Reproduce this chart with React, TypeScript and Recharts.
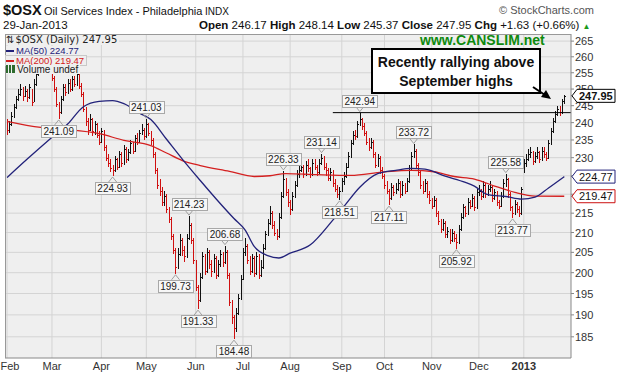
import React from 'react';
import {
  ComposedChart,
  Bar,
  Line,
  XAxis,
  YAxis,
  CartesianGrid,
  ReferenceLine,
  ReferenceDot,
} from 'recharts';

// daily bars, Feb 1 2012 .. Jan 29 2013 (trading days)
const closes = [
  238.0, 239.5, 242.0, 244.5, 247.0, 248.5, 250.0, 248.0, 249.5, 247.5,
  250.5, 246.0, 251.5, 254.5, 256.0, 257.5, 258.5, 256.5, 257.5, 256.0,
  253.5, 250.0, 245.5, 243.0, 247.0, 250.5, 249.0, 252.0, 250.0, 253.0,
  251.5, 254.5, 251.0, 248.5, 244.0, 240.5, 238.0, 241.0, 237.5, 239.5,
  236.5, 234.5,
  237.5, 233.0, 230.0, 228.5, 227.0, 226.5, 229.5, 227.5, 231.0, 228.5,
  232.5, 229.5, 231.5, 234.0, 232.0, 235.5, 234.5, 237.0, 238.0, 236.0,
  239.5, 237.0, 235.0, 231.0, 226.5, 222.5, 221.0, 218.0, 219.5, 216.0,
  213.5, 209.0, 205.5, 201.5, 204.5, 208.0, 205.5, 204.0, 208.5, 212.0,
  208.0, 203.0,
  196.5, 193.5, 199.0, 204.0, 200.5, 205.0, 202.0, 200.5, 203.5, 199.5,
  202.0, 204.5, 202.5, 205.0, 199.5, 193.0, 189.5, 187.0, 190.5, 194.0,
  198.5,
  205.0, 206.5, 203.0, 200.5, 203.5, 200.0, 204.0, 199.5, 201.5, 206.0,
  209.5, 212.5, 215.0, 212.0, 210.0, 209.0, 214.0, 219.5, 224.0, 220.5,
  218.0,
  216.0, 219.5, 222.5, 225.5, 226.5, 227.5, 225.5, 228.0, 227.0, 225.5,
  228.5, 227.5, 226.0, 228.5, 230.0, 227.5, 226.5, 224.5, 226.0, 223.0,
  221.5, 220.0, 221.0,
  223.5, 225.0, 227.5, 230.5, 234.0, 236.5, 236.0, 239.5, 241.0, 239.0,
  237.0, 234.5, 233.0, 234.5, 231.0, 228.0, 230.0, 226.5, 225.0,
  222.5, 221.0, 219.0, 222.0, 220.5, 221.5, 223.0, 220.0, 222.5, 221.0,
  223.5, 227.0, 230.5, 232.0, 228.0, 226.0, 222.5, 221.0, 223.0, 220.0,
  218.5,
  217.0, 218.5, 215.0, 213.0, 211.0, 212.5, 209.5, 210.5, 208.0, 210.0,
  208.5, 207.5, 211.0, 214.0, 216.5, 215.0, 218.0, 217.0, 219.0, 216.5,
  220.5,
  221.0, 219.5, 222.5, 220.0, 221.5, 222.0, 219.0, 220.5, 218.0, 217.0,
  219.5, 223.0, 224.0, 220.0, 216.5, 215.0, 217.5, 216.0, 215.0, 221.5,
  228.5, 229.5, 231.0, 231.5, 229.0, 230.5, 231.5, 229.5, 232.0, 231.0,
  230.0, 234.0, 237.5, 240.5, 242.5, 244.0, 243.0, 246.32, 247.95,
];

const highs = [
  241.0, 240.5, 243.0, 245.5, 248.0, 250.0, 251.5, 250.5, 251.0, 250.0,
  251.5, 250.0, 253.0, 256.0, 257.5, 259.0, 260.0, 259.0, 259.0, 258.5,
  256.5, 254.0, 250.5, 246.0, 248.0, 251.5, 251.5, 253.0, 253.0, 254.0,
  254.0, 256.0, 255.0, 252.0, 249.0, 244.5, 241.5, 242.5, 241.5, 240.5,
  240.0, 237.5,
  238.5, 238.0, 233.5, 231.0, 229.5, 228.0, 230.5, 230.0, 232.0, 231.5,
  233.5, 233.0, 232.5, 235.0, 234.5, 236.5, 237.0, 238.0, 239.5, 238.5,
  241.03, 240.0, 237.5, 235.5, 231.5, 227.0, 224.0, 222.0, 221.0, 220.0,
  216.5, 214.0, 209.5, 206.0, 206.0, 209.5, 208.5, 206.5, 209.5, 214.23,
  212.5, 208.5,
  203.0, 197.0, 200.0, 205.0, 204.5, 206.0, 205.5, 203.0, 204.5, 204.0,
  203.0, 205.5, 205.0, 206.68, 205.5, 200.0, 193.5, 190.0, 191.5, 195.0,
  199.5,
  206.0, 208.5, 207.0, 204.0, 204.5, 204.0, 205.0, 204.5, 203.0, 207.0,
  210.5, 213.5, 217.0, 215.5, 213.0, 211.0, 215.0, 220.5, 226.33, 224.5,
  221.5,
  218.5, 220.5, 223.5, 226.5, 228.0, 229.0, 228.0, 229.0, 229.5, 227.5,
  229.5, 229.5, 228.0, 229.5, 231.14, 230.5, 228.5, 227.0, 227.0, 226.5,
  224.0, 222.5, 222.0,
  224.5, 226.0, 228.5, 231.5, 235.0, 237.5, 238.0, 240.5, 242.94, 241.5,
  240.0, 237.5, 235.5, 235.5, 235.0, 231.5, 231.0, 230.5, 227.5,
  225.5, 223.5, 221.5, 223.0, 222.5, 223.0, 224.0, 223.5, 223.5, 223.0,
  224.5, 228.0, 231.5, 233.72, 232.5, 228.5, 226.5, 223.5, 224.0, 223.5,
  221.0,
  219.0, 219.5, 219.0, 215.5, 213.5, 213.5, 213.0, 211.5, 211.0, 211.0,
  210.5, 209.5, 212.0, 215.0, 217.5, 217.0, 219.0, 218.5, 220.0, 219.5,
  221.5,
  222.5, 221.5, 223.5, 223.0, 222.5, 223.5, 222.5, 221.5, 221.0, 218.5,
  220.5, 224.0, 225.58, 224.5, 220.5, 217.0, 218.5, 218.0, 217.0, 222.0,
  229.5, 231.0, 232.5, 233.0, 232.0, 231.5, 233.0, 232.0, 233.0, 233.0,
  231.5, 235.0, 238.5, 241.5, 243.5, 245.0, 245.0, 247.0, 248.14,
];

const lows = [
  236.5, 237.0, 239.0, 241.5, 244.0, 246.5, 248.0, 246.5, 247.5, 246.0,
  247.0, 245.0, 246.5, 251.0, 254.0, 255.5, 256.5, 255.5, 255.5, 255.0,
  252.5, 249.0, 244.5, 241.09, 242.5, 246.5, 248.0, 248.5, 249.0, 249.5,
  250.5, 251.0, 250.0, 247.5, 243.0, 239.0, 236.5, 237.5, 236.0, 236.5,
  235.5, 233.5,
  234.0, 232.0, 229.0, 227.5, 226.0, 224.93, 226.0, 226.5, 227.0, 227.5,
  228.0, 228.5, 229.0, 231.0, 231.0, 231.5, 233.5, 234.0, 236.5, 235.0,
  235.5, 236.0, 233.5, 230.0, 225.5, 221.5, 219.5, 217.0, 217.0, 215.0,
  212.5, 208.0, 204.5, 199.73, 201.0, 204.0, 204.0, 202.5, 203.5, 208.0,
  207.0, 202.0,
  195.5, 191.33, 193.0, 198.5, 199.5, 200.0, 201.0, 199.0, 200.0, 198.5,
  199.0, 201.5, 201.5, 202.0, 198.5, 192.0, 188.0, 184.48, 186.0, 190.0,
  193.5,
  198.5, 204.0, 202.0, 199.5, 200.0, 199.0, 199.5, 198.5, 199.0, 201.0,
  205.5, 209.0, 212.0, 211.0, 209.0, 208.0, 208.5, 213.5, 219.0, 219.5,
  216.5,
  214.5, 215.5, 219.0, 222.0, 224.5, 226.0, 224.5, 225.0, 226.0, 224.5,
  225.0, 226.5, 225.0, 225.5, 228.0, 226.5, 225.0, 223.5, 223.5, 222.0,
  220.5, 219.0, 218.51,
  220.5, 222.5, 224.5, 227.0, 230.0, 233.5, 235.0, 235.5, 239.0, 238.0,
  236.0, 233.5, 232.0, 232.5, 230.0, 227.0, 227.5, 225.5, 224.0,
  221.5, 220.0, 217.11, 218.5, 219.5, 220.0, 221.0, 219.0, 219.5, 220.0,
  220.5, 223.0, 226.5, 230.0, 227.0, 225.0, 221.5, 220.0, 220.5, 219.0,
  217.5,
  216.0, 216.5, 214.0, 212.0, 210.0, 210.5, 208.5, 208.5, 207.0, 207.5,
  207.5, 205.92, 207.0, 210.5, 213.5, 214.0, 214.5, 216.0, 216.5, 215.5,
  216.0,
  219.5, 218.5, 219.0, 219.0, 219.5, 220.5, 218.0, 218.5, 217.0, 216.0,
  216.5, 219.0, 222.0, 219.0, 215.5, 213.77, 214.5, 215.0, 214.0, 214.5,
  226.0, 227.5, 229.0, 230.0, 228.0, 228.5, 229.5, 228.5, 229.0, 230.0,
  229.0, 229.5, 233.5, 237.0, 240.0, 242.0, 242.0, 242.5, 245.37,
];

const firstOpen = 239.0;

// moving averages at selected bars
const ma50At = [0, 9, 19, 27, 34, 41, 47, 52, 59, 64, 71, 78, 86, 93, 101, 106, 110, 116, 121, 126, 135, 145, 150, 157, 165, 173, 180, 186, 195, 204, 208, 214, 222, 229, 235, 241, 248];
const ma50Vals = [224.5, 229.6, 235.2, 239.6, 244.7, 246.3, 246.5, 245.6, 242.8, 240.9, 235.2, 229.6, 223.7, 218.8, 213.6, 210.6, 206.5, 204.2, 203.6, 204.8, 206.9, 213.2, 216.8, 221.9, 225.6, 226.5, 227.0, 226.8, 224.9, 223.2, 222.2, 219.9, 219.4, 218.7, 219.2, 221.7, 224.77];

const ma200At = [0, 15, 27, 41, 52, 64, 71, 78, 86, 99, 110, 117, 124, 138, 153, 167, 180, 190, 199, 208, 217, 226, 235, 248];
const ma200Vals = [240.4, 238.6, 238.0, 236.8, 234.9, 233.4, 231.3, 229.2, 227.8, 226.2, 224.8, 225.0, 225.6, 225.3, 225.1, 226.0, 226.5, 226.1, 224.8, 224.1, 222.2, 220.5, 219.5, 219.47];

// labelled highs / lows
const noteAt = [23, 47, 62, 75, 81, 85, 97, 101, 123, 140, 148, 157, 170, 181, 200, 222, 225];
const noteVals = [241.09, 224.93, 241.03, 199.73, 214.23, 191.33, 206.68, 184.48, 226.33, 231.14, 218.51, 242.94, 217.11, 233.72, 205.92, 225.58, 213.77];
const noteIsHigh = [false, false, true, false, true, false, true, false, true, true, false, true, false, true, false, true, false];

const monthTicks = [0, 20, 42, 62, 84, 105, 126, 149, 168, 189, 210, 230];
const monthLabels = ['Feb', 'Mar', 'Apr', 'May', 'Jun', 'Jul', 'Aug', 'Sep', 'Oct', 'Nov', 'Dec', '2013'];
const priceTicks = [185, 190, 195, 200, 205, 210, 215, 220, 225, 230, 235, 240, 245, 250, 255, 260, 265];
const coveredTicks = [220, 225];

const lastValues = [247.95, 224.77, 219.47];
const lastColors = ['#000000', '#22227A', '#CC1111'];

const RED = '#D01010';
const NAVY = '#22227A';
const MA_RED = '#D42020';
const FONT = '"Liberation Sans", Arial, sans-serif';

const rows = closes.map((close, i) => {
  const k50 = ma50At.indexOf(i);
  const k200 = ma200At.indexOf(i);
  return {
    i,
    open: i === 0 ? firstOpen : closes[i - 1],
    close,
    high: highs[i],
    low: lows[i],
    range: [lows[i], highs[i]],
    ma50: k50 >= 0 ? ma50Vals[k50] : null,
    ma200: k200 >= 0 ? ma200Vals[k200] : null,
  };
});

function OhlcBar(props: any) {
  const { x, y, width, height, payload } = props;
  if (!payload || y == null || isNaN(y)) return null;
  const cx = Math.round(x + width / 2) + 0.5;
  const top = Math.min(y, y + height);
  const bot = Math.max(y, y + height);
  const lh = Math.log(payload.high);
  const ll = Math.log(payload.low);
  const yAt = (v: number) => {
    const c = Math.min(payload.high, Math.max(payload.low, v));
    return top + ((bot - top) * (lh - Math.log(c))) / (lh - ll || 1);
  };
  const col = payload.close < payload.open ? RED : '#111111';
  const yo = Math.round(yAt(payload.open)) + 0.5;
  const yc = Math.round(yAt(payload.close)) + 0.5;
  return (
    <g stroke={col} strokeWidth={1} shapeRendering="crispEdges">
      <line x1={cx} x2={cx} y1={top} y2={bot} />
      <line x1={cx - 1} x2={cx} y1={yo} y2={yo} />
      <line x1={cx} x2={cx + 1} y1={yc} y2={yc} />
    </g>
  );
}

function Note({ cx, cy, text, above }: { cx: number; cy: number; text: string; above: boolean }) {
  const w = Math.round(text.length * 5.2 + 4);
  const h = 12;
  const bx = Math.round(cx - w / 2) + 0.5;
  const py = above ? cy - 6 : cy + 6;
  const by = Math.round(above ? py - h : py) + 0.5;
  const tip = above ? cy - 1 : cy + 1;
  return (
    <g>
      <polyline points={`${cx - 4},${py} ${cx},${tip} ${cx + 4},${py}`} fill="none" stroke="#A0A0A0" />
      <rect x={bx} y={by} width={w} height={h} fill="#F7F7F7" stroke="#A8A8A8" />
      <text x={cx} y={by + 9.5} textAnchor="middle" fontSize={10} fill="#222" fontFamily={FONT}>
        {text}
      </text>
    </g>
  );
}

// right-axis ticks; the last values are drawn as boxed tags on top of the plain ticks
function PriceTick(props: any) {
  const { x, y, payload } = props;
  const v = payload.value;
  const k = lastValues.indexOf(v);
  if (k >= 0) {
    const x0 = x - 3;
    const w = 38;
    const pts = `${x0},${y} ${x0 + 5},${y - 6.5} ${x0 + 5 + w},${y - 6.5} ${x0 + 5 + w},${y + 6.5} ${x0 + 5},${y + 6.5}`;
    return (
      <g>
        <polygon points={pts} fill="#FFFFFF" stroke={lastColors[k]} strokeWidth={1} />
        <text x={x0 + 7} y={y + 4} fontSize={11} fontWeight={k === 0 ? 'bold' : 'normal'} fill="#111" fontFamily={FONT}>
          {v.toFixed(2)}
        </text>
      </g>
    );
  }
  if (coveredTicks.includes(v)) return null;
  return (
    <text x={x} y={y + 4} fontSize={11} fill="#333" fontFamily={FONT}>
      {v}
    </text>
  );
}

function MonthTick(props: any) {
  const { x, y, payload } = props;
  const k = monthTicks.indexOf(payload.value);
  const label = k >= 0 ? monthLabels[k] : '';
  return (
    <text x={Math.max(x, 10)} y={y + 8} textAnchor="middle" fontSize={11} fill="#333" fontFamily={FONT} fontWeight={label === '2013' ? 'bold' : 'normal'}>
      {label}
    </text>
  );
}

export default function App() {
  return (
    <div style={s.page}>
      <style>{'body{margin:0}'}</style>
      <ComposedChart width={617} height={378} data={rows} margin={{ top: 34, right: 0, bottom: 0, left: 5 }}>
        <CartesianGrid fill="#EFEFEF" stroke="#D4D4D4" horizontalValues={priceTicks} verticalValues={monthTicks} />
        <XAxis
          dataKey="i"
          type="number"
          domain={[-0.9, 251]}
          allowDataOverflow
          ticks={monthTicks}
          interval={0}
          height={20}
          tickLine={false}
          tickSize={2}
          axisLine={{ stroke: '#888' }}
          tick={<MonthTick />}
        />
        <YAxis
          orientation="right"
          type="number"
          scale="log"
          domain={[180.3, 267.3]}
          allowDataOverflow
          ticks={[...priceTicks, ...lastValues]}
          interval={0}
          width={46}
          tickSize={3}
          tickMargin={1}
          axisLine={{ stroke: '#888' }}
          tickLine={{ stroke: '#888' }}
          tick={<PriceTick />}
        />
        <Bar dataKey="range" barSize={2} shape={OhlcBar} isAnimationActive={false} />
        <Line dataKey="ma200" type="monotone" connectNulls dot={false} stroke={MA_RED} strokeWidth={1.3} isAnimationActive={false} />
        <Line dataKey="ma50" type="monotone" connectNulls dot={false} stroke={NAVY} strokeWidth={1.3} isAnimationActive={false} />
        <ReferenceLine
          segment={[{ x: 145, y: 242.94 }, { x: 251, y: 242.94 }]}
          stroke="#000"
          strokeWidth={1}
          ifOverflow="visible"
        />
        {noteAt.map((at, k) => (
          <ReferenceDot
            key={'n' + k}
            x={at}
            y={noteVals[k]}
            r={0}
            ifOverflow="visible"
            shape={(p: any) => <Note cx={p.cx} cy={p.cy} text={noteVals[k].toFixed(2)} above={noteIsHigh[k]} />}
          />
        ))}
      </ComposedChart>

      {/* header */}
      <div style={{ ...s.abs, left: 3, top: 3, fontSize: 14.5, fontWeight: 'bold' }}>$OSX</div>
      <div style={{ ...s.abs, left: 44, top: 6, fontSize: 11 }}>Oil Services Index - Philadelphia</div>
      <div style={{ ...s.abs, left: 205, top: 7, fontSize: 10 }}>INDX</div>
      <div style={{ ...s.abs, left: 499, top: 5, fontSize: 11, color: '#555' }}>© StockCharts.com</div>
      <div style={{ ...s.abs, left: 3, top: 20, fontSize: 11.5 }}>29-Jan-2013</div>
      <div style={{ ...s.abs, left: 199, top: 20, fontSize: 11.5, whiteSpace: 'nowrap' }}>
        <b>Open</b> 246.17 <b>High</b> 248.14 <b>Low</b> 245.37 <b>Close</b> 247.95 <b>Chg</b> +1.63 (+0.66%)
        <span style={{ color: '#1A9A1A', fontSize: 8, marginLeft: 3 }}>▲</span>
      </div>

      {/* plot frame */}
      <div style={{ ...s.abs, left: 5, top: 34, width: 566, height: 324, borderLeft: '1px solid #999', borderTop: '1px solid #999', boxSizing: 'border-box' }} />

      {/* legend */}
      <div style={{ ...s.abs, left: 6, top: 35, background: '#EFEFEF', fontFamily: '"DejaVu Sans", Verdana, sans-serif', fontSize: 10, lineHeight: '10px', color: '#222', paddingRight: 2 }}>
        <span style={{ marginRight: 1 }}>⇅</span>$OSX (Daily) 247.95
      </div>
      <div style={{ ...s.abs, left: 6, top: 46, background: '#EFEFEF', fontSize: 9.5, color: NAVY, lineHeight: '9px', paddingRight: 2 }}>
        <span style={{ display: 'inline-block', width: 8, height: 2, background: NAVY, verticalAlign: 'middle', marginRight: 2 }} />MA(50) 224.77
      </div>
      <div style={{ ...s.abs, left: 6, top: 55.5, background: '#EFEFEF', fontSize: 9.5, color: MA_RED, lineHeight: '9px', paddingRight: 2, outline: '1px solid #C8C8C8' }}>
        <span style={{ display: 'inline-block', width: 8, height: 2, background: MA_RED, verticalAlign: 'middle', marginRight: 2 }} />MA(200) 219.47
      </div>
      <div style={{ ...s.abs, left: 6, top: 65, background: '#EFEFEF', fontSize: 10, color: '#222', lineHeight: '9px', paddingRight: 2 }}>
        <span style={{ display: 'inline-block', width: 9, height: 8, marginRight: 2, background: 'linear-gradient(90deg,#2E6B2E 0 2px,transparent 2px 3px,#2E6B2E 3px 5px,transparent 5px 6px,#2E6B2E 6px 8px)' }} />Volume undef
      </div>

      {/* annotations */}
      <div style={{ ...s.abs, left: 420, top: 33, fontSize: 14, fontWeight: 'bold', color: '#0E8A0E' }}>www.CANSLIM.net</div>
      <div style={s.callout}>
        Recently rallying above
        <br />
        September highs
      </div>
      <svg style={{ ...s.abs, left: 0, top: 0, overflow: 'visible' }} width={617} height={378}>
        <line x1={533} y1={87} x2={545} y2={95} stroke="#000" strokeWidth={2} />
        <polygon points="551,99 541,97 546,90" fill="#000" />
      </svg>
    </div>
  );
}

const s: Record<string, React.CSSProperties> = {
  page: {
    position: 'relative',
    width: 617,
    height: 378,
    background: '#FFFFFF',
    fontFamily: FONT,
    color: '#111',
    overflow: 'hidden',
  },
  abs: {
    position: 'absolute',
    lineHeight: 1,
    whiteSpace: 'nowrap',
  },
  callout: {
    position: 'absolute',
    left: 371,
    top: 48,
    width: 170,
    height: 46,
    boxSizing: 'border-box',
    border: '2px solid #000',
    background: '#FFFFFF',
    fontSize: 14,
    fontWeight: 'bold',
    textAlign: 'center',
    lineHeight: '19px',
    paddingTop: 3,
  },
};
